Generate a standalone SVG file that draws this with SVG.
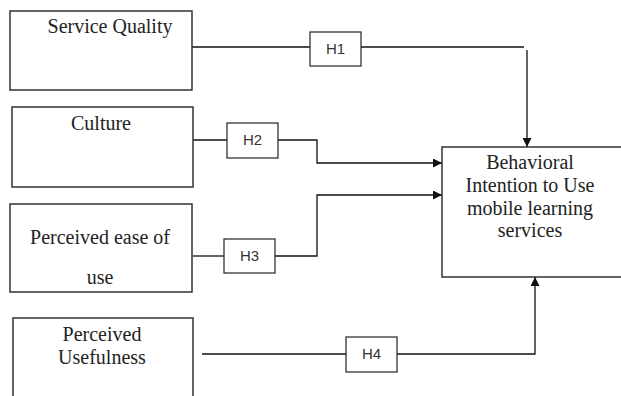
<svg xmlns="http://www.w3.org/2000/svg" width="621" height="396" viewBox="0 0 621 396">
<style>
.box{fill:#fff;stroke:#333;stroke-width:1.5}
.hbox{fill:#fff;stroke:#333;stroke-width:1.3}
.t{font-family:"Liberation Serif",serif;font-size:20px;fill:#222;text-anchor:middle}
.h{font-family:"Liberation Sans",sans-serif;font-size:15px;fill:#333;text-anchor:middle}
.c{fill:none;stroke:#111;stroke-width:1.3}
</style>
<defs>
<marker id="ar" viewBox="0 0 10 10" refX="10" refY="5" markerWidth="9" markerHeight="9" markerUnits="userSpaceOnUse" orient="auto">
<path d="M0,0 L10,5 L0,10 z" fill="#111"/>
</marker>
</defs>
<rect width="621" height="396" fill="#fff"/>
<g id="connectors">
<path class="c" d="M192,47 H310"/>
<path class="c" d="M361,47 H524"/>
<path class="c" d="M527,50 V147" marker-end="url(#ar)"/>
<path class="c" d="M193,140 H227"/>
<path class="c" d="M278,140 H317 V163 H442" marker-end="url(#ar)"/>
<path class="c" d="M193,256 H224"/>
<path class="c" d="M275,256 H317 V195 H442" marker-end="url(#ar)"/>
<path class="c" d="M202,354 H346"/>
<path class="c" d="M397,354 H535 V277" marker-end="url(#ar)"/>
</g>
<g id="service-quality">
<rect class="box" x="10" y="11" width="182" height="79"/>
<text class="t" x="110" y="33">Service Quality</text>
</g>
<g id="culture">
<rect class="box" x="12" y="107" width="181" height="80"/>
<text class="t" x="101" y="130">Culture</text>
</g>
<g id="perceived-ease">
<rect class="box" x="10" y="204" width="182" height="88"/>
<text class="t" x="100" y="244">Perceived ease of</text>
<text class="t" x="100" y="284">use</text>
</g>
<g id="perceived-usefulness">
<rect class="box" x="13" y="318" width="180" height="90"/>
<text class="t" x="102" y="341">Perceived</text>
<text class="t" x="102" y="364">Usefulness</text>
</g>
<g id="behavioral-intention">
<rect class="box" x="442" y="147" width="190" height="130"/>
<text class="t" x="530" y="169">Behavioral</text>
<text class="t" x="530" y="192">Intention to Use</text>
<text class="t" x="530" y="215">mobile learning</text>
<text class="t" x="530" y="237">services</text>
</g>
<g id="h1">
<rect class="hbox" x="310" y="32" width="51" height="34"/>
<text class="h" x="335.5" y="54">H1</text>
</g>
<g id="h2">
<rect class="hbox" x="227" y="123" width="51" height="35"/>
<text class="h" x="252.5" y="145">H2</text>
</g>
<g id="h3">
<rect class="hbox" x="224" y="239" width="51" height="34"/>
<text class="h" x="249.5" y="261">H3</text>
</g>
<g id="h4">
<rect class="hbox" x="346" y="337" width="51" height="35"/>
<text class="h" x="371.5" y="359">H4</text>
</g>
</svg>
